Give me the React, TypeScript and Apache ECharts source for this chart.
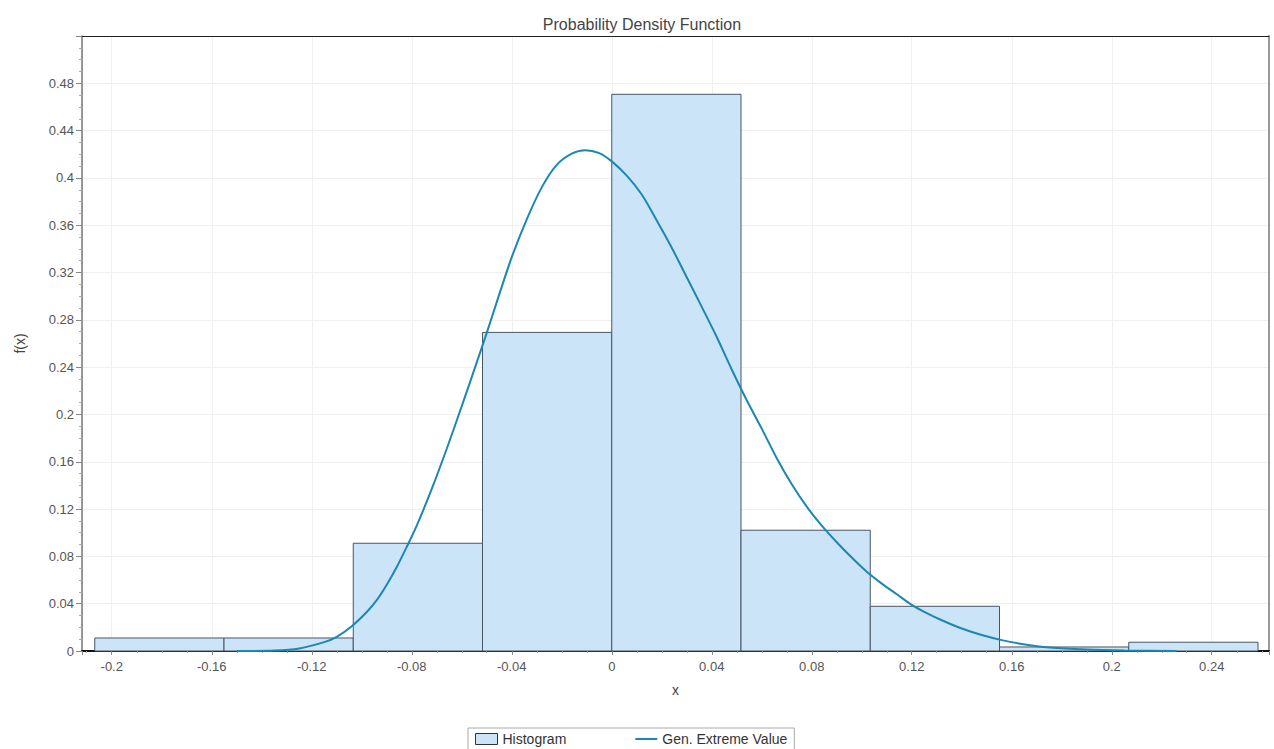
import React, { useEffect, useRef } from "react";
import * as echarts from "echarts";

const binEdges = [-0.2068, -0.1551, -0.1034, -0.0517, 0, 0.0517, 0.1034, 0.1551, 0.2068, 0.2585];
const binHeights = [0.011, 0.011, 0.0911, 0.2694, 0.4707, 0.1021, 0.0378, 0.0034, 0.0074];

const curveX = [
  -0.15, -0.135, -0.125, -0.115, -0.11, -0.104, -0.098, -0.094, -0.09, -0.086,
  -0.082, -0.078, -0.072, -0.066, -0.06, -0.054, -0.05, -0.046, -0.04, -0.034,
  -0.028, -0.022, -0.016, -0.0107, -0.005, 0, 0.006, 0.012, 0.018, 0.024,
  0.03, 0.036, 0.042, 0.048, 0.054, 0.06, 0.066, 0.072, 0.078, 0.084,
  0.09, 0.096, 0.102, 0.108, 0.114, 0.12, 0.126, 0.132, 0.14, 0.148,
  0.156, 0.164, 0.175, 0.19, 0.205, 0.226,
];
const curveY = [
  0, 0.0004, 0.0022, 0.0075, 0.012, 0.021, 0.033, 0.043, 0.056, 0.071,
  0.088, 0.106, 0.137, 0.171, 0.207, 0.244, 0.269, 0.295, 0.333, 0.365,
  0.392, 0.411, 0.4205, 0.4235, 0.421, 0.414, 0.402, 0.386, 0.364, 0.341,
  0.316, 0.291, 0.2655, 0.238, 0.212, 0.188, 0.163, 0.141, 0.122, 0.106,
  0.092, 0.079, 0.067, 0.057, 0.048, 0.039, 0.032, 0.026, 0.019, 0.0135,
  0.0092, 0.006, 0.003, 0.0012, 0.0004, 0,
];

const X_MIN = -0.2119;
const X_MAX = 0.2629;
const Y_MIN = 0;
const Y_MAX = 0.52;

const titleText = "Probability Density Function";
const xName = "x";
const yName = "f(x)";
const histName = "Histogram";
const curveName = "Gen. Extreme Value";

export default function App() {
  const ref = useRef<HTMLDivElement>(null);
  useEffect(() => {
    if (!ref.current) return;
    const chart = echarts.init(ref.current, undefined, { renderer: "svg" });
    const histData = binHeights.map((h, i) => [binEdges[i], binEdges[i + 1], h]);
    const lineData = curveX.map((x, i) => [x, curveY[i]]);
    const font = "Liberation Sans, Arial, sans-serif";
    const lineColor = "#1b87b2";
    const histFill = "#cce4f8";
    chart.setOption({
      animation: false,
      backgroundColor: "#ffffff",
      title: {
        text: titleText,
        left: 637,
        top: 11,
        textAlign: "center",
        textStyle: { fontSize: 16, fontWeight: "normal", color: "#444", fontFamily: font },
      },
      legend: {
        left: 468,
        top: 728,
        orient: "horizontal",
        itemWidth: 22,
        itemHeight: 11,
        itemGap: 69,
        padding: [4, 7, 4, 7],
        borderColor: "#aaa",
        borderWidth: 1,
        borderRadius: 0,
        textStyle: { fontSize: 14, color: "#333", fontFamily: font },
        data: [
          {
            name: histName,
            icon: "rect",
            itemStyle: { color: histFill, borderColor: "#333", borderWidth: 1 },
          },
          {
            name: curveName,
            icon: "path://M0,0 L22,0 L22,2 L0,2 Z",
            itemStyle: { color: lineColor, borderWidth: 0 },
          },
        ],
      },
      grid: { left: 82, right: 5, top: 36, bottom: 98, containLabel: false },
      xAxis: [
        {
          type: "value",
          min: X_MIN,
          max: X_MAX,
          minInterval: 0.04,
          maxInterval: 0.04,
          name: xName,
          nameLocation: "middle",
          nameGap: 32,
          nameTextStyle: { fontSize: 14, color: "#444", fontFamily: font },
          axisLine: { show: true, onZero: false, lineStyle: { color: "#111", width: 2 } },
          axisTick: { show: true, length: 4, lineStyle: { color: "#888" } },
          minorTick: { show: true, splitNumber: 4, length: 2, lineStyle: { color: "#aaa" } },
          axisLabel: {
            showMinLabel: false,
            showMaxLabel: false,
            margin: 9,
            fontSize: 13,
            color: "#555",
            fontFamily: font,
            formatter: (v: number) => String(Math.round(v * 100) / 100),
          },
          splitLine: { show: true, lineStyle: { color: "#f0f0f0", width: 1 } },
        },
        {
          type: "value",
          position: "top",
          min: X_MIN,
          max: X_MAX,
          axisLine: { show: true, onZero: false, lineStyle: { color: "#222", width: 1 } },
          axisTick: { show: false },
          axisLabel: { show: false },
          splitLine: { show: false },
        },
      ],
      yAxis: [
        {
          type: "value",
          min: Y_MIN,
          max: Y_MAX,
          interval: 0.04,
          name: yName,
          nameLocation: "middle",
          nameGap: 55,
          nameTextStyle: { fontSize: 14, color: "#444", fontFamily: font },
          axisLine: { show: true, onZero: false, lineStyle: { color: "#777", width: 1.5 } },
          axisTick: { show: true, length: 6, lineStyle: { color: "#888" } },
          minorTick: { show: true, splitNumber: 4, length: 3, lineStyle: { color: "#aaa" } },
          axisLabel: {
            showMaxLabel: false,
            margin: 8,
            fontSize: 13,
            color: "#555",
            fontFamily: font,
            formatter: (v: number) => String(Math.round(v * 100) / 100),
          },
          splitLine: { show: true, lineStyle: { color: "#f0f0f0", width: 1 } },
        },
        {
          type: "value",
          position: "right",
          min: Y_MIN,
          max: Y_MAX,
          axisLine: { show: true, onZero: false, lineStyle: { color: "#999", width: 2 } },
          axisTick: { show: false },
          axisLabel: { show: false },
          splitLine: { show: false },
        },
      ],
      series: [
        {
          name: histName,
          type: "custom",
          xAxisIndex: 0,
          yAxisIndex: 0,
          encode: { x: [0, 1], y: 2 },
          itemStyle: { color: histFill },
          z: 2,
          renderItem: (params: any, api: any) => {
            const x0 = api.value(0);
            const x1 = api.value(1);
            const h = api.value(2);
            const p0 = api.coord([x0, h]);
            const p1 = api.coord([x1, 0]);
            return {
              type: "rect",
              shape: { x: p0[0], y: p0[1], width: p1[0] - p0[0], height: p1[1] - p0[1] },
              style: { fill: histFill, stroke: "#4a5563", lineWidth: 1 },
            };
          },
          data: histData,
        },
        {
          name: curveName,
          type: "line",
          xAxisIndex: 0,
          yAxisIndex: 0,
          smooth: 0.3,
          symbol: "none",
          showSymbol: false,
          z: 5,
          lineStyle: { color: lineColor, width: 2 },
          itemStyle: { color: lineColor },
          data: lineData,
        },
      ],
    });
    return () => chart.dispose();
  }, []);
  return (
    <div
      ref={ref}
      style={{ position: "fixed", left: 0, top: 0, width: 1274, height: 749, background: "#fff" }}
    />
  );
}
